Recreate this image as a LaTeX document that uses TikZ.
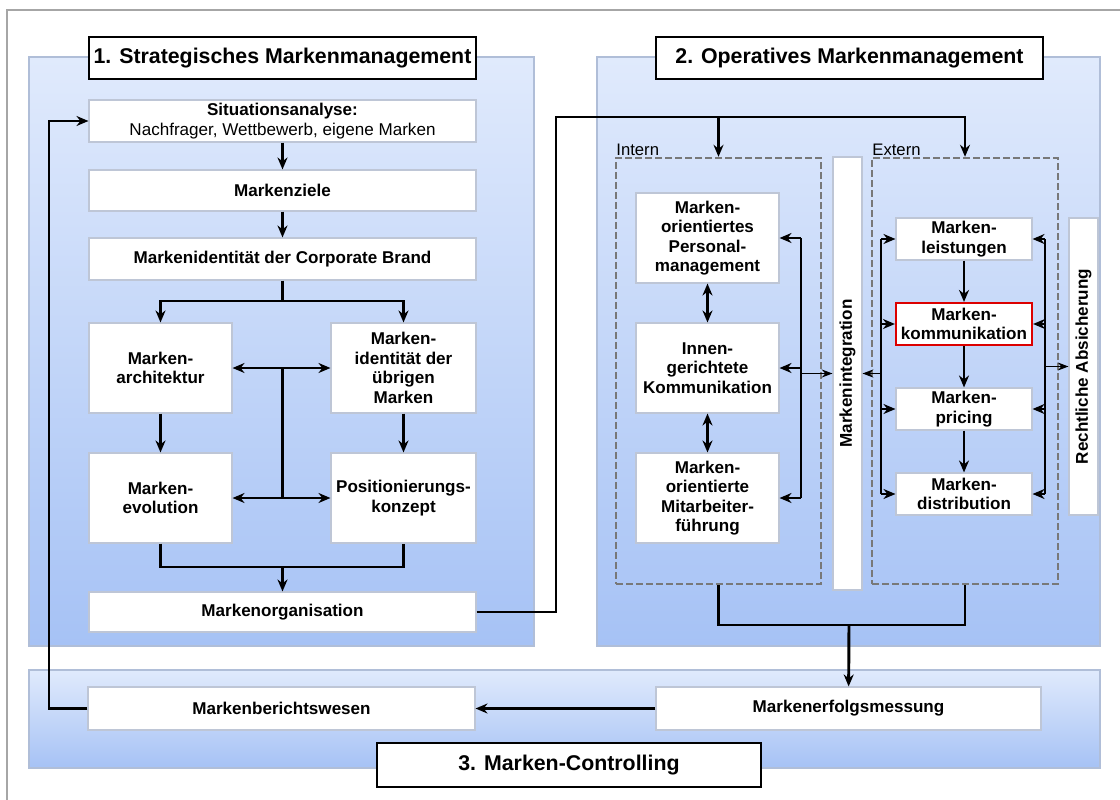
\documentclass[tikz,border=0pt]{standalone}
\usepackage{fontspec}
\setmainfont{Liberation Sans}
\usetikzlibrary{arrows.meta}

\definecolor{panelTop}{RGB}{224,234,252}
\definecolor{panelBot}{RGB}{166,194,245}
\definecolor{panelRim}{RGB}{176,190,216}
\definecolor{boxRim}{RGB}{190,198,214}
\definecolor{dashGray}{RGB}{120,120,120}
\definecolor{markRed}{RGB}{220,0,0}

\tikzset{
  box/.style={draw=boxRim, fill=white, line width=0.8pt, inner sep=1pt, align=center,
    font=\bfseries\fontsize{12.8}{14.6}\selectfont},
  titlebox/.style={draw=black, fill=white, line width=1.6pt, inner sep=1pt,
    font=\bfseries\fontsize{16}{19}\selectfont},
  panel/.style={draw=panelRim, line width=0.8pt, top color=panelTop, bottom color=panelBot},
  dashbox/.style={draw=dashGray, dash pattern=on 5pt off 2.5pt, line width=1.8pt},
  lab/.style={font=\fontsize{12.5}{14}\selectfont, inner sep=1pt},
  conn/.style={line width=2.2pt},
  arr/.style={conn, -{Stealth[length=9pt,width=7.5pt]}},
  dblarr/.style={conn, {Stealth[length=9pt,width=7.5pt]}-{Stealth[length=9pt,width=7.5pt]}},
  thinarr/.style={line width=1.2pt, -{Stealth[length=8pt,width=6pt]}},
}

\begin{document}
\begin{tikzpicture}[x=0.75pt,y=0.75pt,yscale=-1,xscale=1]
\useasboundingbox (0,0) rectangle (1120,799);
\clip (0,0) rectangle (1120,799);
\fill[white] (0,0) rectangle (1120,799);

% outer frame
\draw[gray!70, line width=1.2pt] (7,810) -- (7,10) -- (1130,10);

% panels
\path[panel] (29,57) rectangle (534,646);
\path[panel] (597,57) rectangle (1100,646);
\path[panel] (29,670) rectangle (1100,768);

% titles
\node[titlebox, minimum width=290.25pt, minimum height=31.5pt] (t1) at (282.5,58) {1. Strategisches Markenmanagement};
\node[titlebox, minimum width=290.25pt, minimum height=31.5pt] (t2) at (849.5,58) {2. Operatives Markenmanagement};
\node[titlebox, minimum width=288pt, minimum height=33pt] (t3) at (569,765) {3. Marken-Controlling};

% strategic boxes
\node[box, minimum width=290.25pt, minimum height=31.5pt] (sit) at (282.5,121) {Situationsanalyse:\\\mdseries Nachfrager, Wettbewerb, eigene Marken};
\node[box, minimum width=290.25pt, minimum height=30.75pt] (ziele) at (282.5,190.5) {Markenziele};
\node[box, minimum width=290.25pt, minimum height=31.5pt] (ident) at (282.5,259) {Markenidentität der Corporate Brand};
\node[box, minimum width=107.25pt, minimum height=67.5pt] (arch) at (160.5,368) {Marken-\\architektur};
\node[box, minimum width=108.75pt, minimum height=67.5pt] (uebr) at (403.5,368) {Marken-\\identität der\\übrigen\\Marken};
\node[box, minimum width=107.25pt, minimum height=67.5pt] (evol) at (160.5,498) {Marken-\\evolution};
\node[box, minimum width=108.75pt, minimum height=67.5pt] (pos) at (403.5,498) {Positionierungs-\\konzept};
\node[box, minimum width=290.25pt, minimum height=30pt] (org) at (282.5,612) {Markenorganisation};

% operative frames
\node[dashbox, minimum width=153.75pt, minimum height=319.5pt] (intern) at (718.5,371) {};
\node[dashbox, minimum width=139.5pt, minimum height=319.5pt] (extern) at (965,371) {};
\node[lab, anchor=south west] (lint) at (intern.north west) {Intern};
\node[lab, anchor=south west] (lext) at (extern.north west) {Extern};

% operative boxes
\node[box, minimum width=107.25pt, minimum height=67.5pt] (pers) at (707.5,238) {Marken-\\orientiertes\\Personal-\\management};
\node[box, minimum width=107.25pt, minimum height=67.5pt] (innen) at (707.5,368) {Innen-\\gerichtete\\Kommunikation};
\node[box, minimum width=107.25pt, minimum height=67.5pt] (mitar) at (707.5,498) {Marken-\\orientierte\\Mitarbeiter-\\führung};
\node[box, rotate=90, minimum width=324.75pt, minimum height=21.75pt] (integ) at (847.5,373.5) {Markenintegration};
\node[box, minimum width=102pt, minimum height=31.5pt] (leist) at (964,239) {Marken-\\leistungen};
\node[box, draw=markRed, line width=1.6pt, minimum width=102pt, minimum height=31.5pt] (komm) at (964,324) {Marken-\\kommunikation};
\node[box, minimum width=102pt, minimum height=31.5pt] (pric) at (964,409) {Marken-\\pricing};
\node[box, minimum width=102pt, minimum height=31.5pt] (dist) at (964,494) {Marken-\\distribution};
\node[box, rotate=90, minimum width=222.75pt, minimum height=21.75pt] (recht) at (1083.5,366.5) {Rechtliche Absicherung};

% controlling boxes
\node[box, minimum width=290.25pt, minimum height=32.25pt] (bericht) at (281.5,708.5) {Markenberichtswesen};
\node[box, minimum width=288.75pt, minimum height=32.25pt] (erfolg) at (848.5,708.5) {Markenerfolgsmessung};

% strategic connectors
\draw[arr] (sit) -- (ziele);
\draw[arr] (ziele) -- (ident);
\coordinate (split) at (282.5,301);
\draw[conn] (ident) -- (split);
\draw[arr] (split) -| (arch);
\draw[arr] (split) -| (uebr);
\draw[arr] (arch) -- (evol);
\draw[arr] (uebr) -- (pos);
\draw[dblarr] (arch) -- (uebr);
\draw[dblarr] (evol) -- (pos);
\draw[conn] (arch.east -| split) -- (evol.east -| split);
\coordinate (merge) at (282.5,567);
\draw[conn] (evol) |- (merge) -| (pos);
\draw[arr] (merge) -- (org);

% org to operative
\coordinate (hub) at (556,117);
\draw[arr] (org) -| (hub) -| (extern);
\draw[arr] (hub) -| (intern);

% intern
\draw[dblarr] (pers) -- (innen);
\draw[dblarr] (innen) -- (mitar);
\coordinate (ibr) at (801,368);
\draw[conn] (ibr |- pers) -- (ibr |- mitar);
\foreach \b in {pers,innen,mitar}
  \draw[arr] (ibr |- \b) -- (\b);
\draw[thinarr] (ibr |- integ) -- (integ);

% extern
\draw[arr] (leist) -- (komm);
\draw[arr] (komm) -- (pric);
\draw[arr] (pric) -- (dist);
\coordinate (elb) at (881,366);
\coordinate (erb) at (1045,366);
\draw[conn] (elb |- leist) -- (elb |- dist);
\draw[conn] (erb |- leist) -- (erb |- dist);
\foreach \b in {leist,komm,pric,dist} {
  \draw[arr] (elb |- \b) -- (\b);
  \draw[arr] (erb |- \b) -- (\b);
}
\draw[thinarr] (elb |- integ) -- (integ);
\draw[thinarr] (erb |- recht) -- (recht);

% controlling
\coordinate (bmerge) at (849,625);
\draw[conn] (intern) |- (bmerge) -| (extern);
\draw[arr] (bmerge) -- (erfolg);
\draw[arr] (erfolg) -- (bericht);
\coordinate (back) at (49,121);
\draw[arr] (bericht) -| (back) -- (sit);

\end{tikzpicture}
\end{document}
